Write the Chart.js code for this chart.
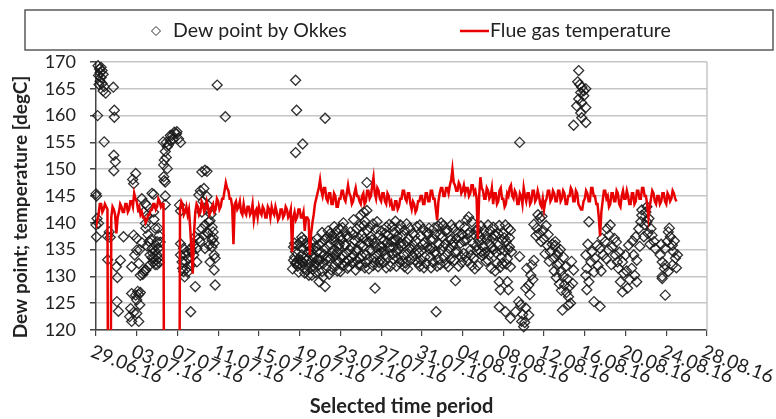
<!DOCTYPE html>
<html>
<head>
<meta charset="utf-8">
<script src="https://cdn.jsdelivr.net/npm/chart.js@4.4.1/dist/chart.umd.min.js"></script>
<style>
  html, body { margin: 0; padding: 0; background: #fff; }
  #wrap { width: 776px; height: 419px; }
</style>
</head>
<body>
<div id="wrap"><canvas id="dewChart" width="776" height="419"></canvas></div>
<script>
// x axis: days since 29.06.16, one label every 4 days
const xTickLabels = ["29.06.16", "03.07.16", "07.07.16", "11.07.16", "15.07.16", "19.07.16",
  "23.07.16", "27.07.16", "31.07.16", "04.08.16", "08.08.16", "12.08.16", "16.08.16",
  "20.08.16", "24.08.16", "28.08.16"];

// flue gas temperature, one reading every 3 hours from 29.06.16 00:00 (one row = one day)
const flueStartDay = 0;
const flueStepDay = 0.125;
const flueTemp = [
  139, 140.5, 141.5, 143.5, 143.5, 142, 142.5, 143.5,
  143, 142.5, 60, 60, 141, 143, 142.5, 141.5,
  138, 141, 142, 143.5, 143, 142, 142, 143.5,
  143.5, 142, 142.5, 144, 144, 143, 145.5, 144.5,
  144, 142.5, 143, 141.5, 142, 141, 141, 140,
  140.5, 141.5, 141.5, 142.5, 142.5, 143.5, 143.5, 142.5,
  143, 144.5, 144, 143, 143.5, 143.5, 60, 60,
  60, 60, 60, 60, 60, 60, 60, 60,
  60, 60, 142.5, 144, 143.5, 141.5, 142, 143,
  141.5, 142.5, 139, 135, 130.5, 138, 142, 143.5,
  143, 141.5, 142, 144, 143.5, 142, 142.5, 144,
  143, 141.5, 142, 143, 143.5, 142, 142.5, 144.5,
  144, 142.5, 143, 144.5, 144.5, 146, 147.5, 146.5,
  146, 144.5, 144.5, 143, 136, 143.5, 144, 142.5,
  143, 144, 142, 141.5, 143.5, 142, 141.5, 143,
  143, 141.5, 142, 143.5, 140.5, 142, 142.5, 141,
  143, 142, 141.5, 143, 142.5, 141, 141, 143,
  142.5, 141, 143, 142, 141.5, 143, 142, 140.5,
  141, 142.5, 142.5, 141, 141.5, 143, 142.5, 141,
  141.5, 142.5, 134.5, 141, 142, 140.5, 141, 142.5,
  142.5, 141, 141, 142, 138.5, 141, 141, 140.5,
  134, 138, 140, 141.5, 143.5, 144.5, 145.5, 146.5,
  148, 146, 145, 146.5, 146.5, 144.5, 144, 145.5,
  145.5, 143.5, 143.5, 145.5, 145, 143, 143, 144.5,
  144.5, 146, 146, 144.5, 144, 145.5, 147, 145.5,
  145, 143.5, 144, 145.5, 146.5, 145, 145, 144,
  143.5, 145, 145.5, 143.5, 144, 146, 146, 144.5,
  145, 147, 148.5, 145.5, 144.5, 146.5, 146, 144.5,
  144, 145.5, 145.5, 144, 143.5, 145.5, 145, 143.5,
  144, 142.5, 142.5, 144, 144, 142.5, 143, 144.5,
  144.5, 146, 146, 144.5, 144, 145.5, 145.5, 143.5,
  142.5, 144, 143.5, 142, 142.5, 144, 144, 145,
  145, 143.5, 143.5, 145.5, 145.5, 144, 144, 146,
  146, 144.5, 144.5, 142.5, 140.5, 144, 145.5, 146.5,
  146.5, 145, 145, 146.5, 146.5, 145.5, 147, 148,
  150, 147.5, 147, 146, 146, 147.5, 147, 145.5,
  146, 147, 145.5, 146.5, 146.5, 145, 145.5, 147,
  147, 145.5, 146, 144.5, 137, 145, 148.5, 146.5,
  146, 144.5, 144.5, 146.5, 146, 144.5, 145, 146.5,
  143.5, 145.5, 145.5, 143.5, 144, 146, 146.5, 144.5,
  144.5, 143, 143.5, 145.5, 145, 146.5, 147, 145,
  144.5, 146, 145.5, 143.5, 143.5, 145.5, 145, 143.5,
  146.5, 145, 144, 145.5, 145.5, 143.5, 144, 146,
  146, 144, 144.5, 146, 145, 143.5, 143, 144.5,
  142.5, 144, 144.5, 146, 146, 144, 144.5, 146,
  145.5, 144, 144, 146, 146, 144, 144.5, 146,
  145.5, 143.5, 143.5, 145, 145, 146.5, 146, 144,
  144, 146, 145.5, 143.5, 143, 142.5, 142.5, 144,
  144.5, 146, 145.5, 144, 144, 146.5, 146.5, 145,
  145, 143.5, 143.5, 141, 137.5, 142, 144, 146,
  146, 144.5, 145, 143, 143.5, 145.5, 145.5, 144,
  144, 146, 145.5, 143.5, 143, 145, 146, 144.5,
  144.5, 146, 145, 143.5, 143.5, 145.5, 145.5, 143.5,
  144, 146, 146, 144.5, 144.5, 146.5, 146.5, 145,
  145, 143.5, 141, 143, 144.5, 146, 145.5, 144,
  143.5, 145, 145, 143.5, 144, 145.5, 145.5, 144,
  143.5, 145.5, 145, 144, 144.5, 146, 145.5, 144.5,
  144
];

// dew point by Okkes: [day since 29.06.16, degC]
const dewPoints = [
  [0.2,169.3],[0.35,168.7],[0.5,169.0],[0.4,168.0],[0.6,168.4],[0.25,167.5],[0.5,167.1],[0.7,167.7],
  [0.4,166.4],[0.6,166.0],[0.8,165.4],[0.7,164.6],[0.95,164.2],[0.3,165.8],[1.7,165.3],[0.15,160.0],
  [1.8,161.0],[1.8,159.7],[0.8,155.1],[1.75,152.6],[1.9,151.4],[1.75,149.7],[0.0,145.4],[0.05,145.0],
  [0.1,140.8],[0.25,139.9],[0.05,137.4],[0.0,139.6],[1.15,133.1],[1.3,138.3],[1.4,137.3],[1.1,137.5],
  [2.0,131.8],[2.4,133.0],[2.1,129.8],[2.05,125.3],[2.2,123.5],[2.7,137.4],
  [3.4,124.0],[3.3,122.5],[3.5,121.6],[4.2,121.6],[4.0,123.1],[3.5,126.8],[3.9,126.5],[4.35,127.0],
  [4.0,125.6],[4.3,124.7],[4.2,126.6],[3.7,123.3],[4.1,127.2],[3.9,149.2],[3.7,147.3],[3.6,148.1],
  [3.7,137.7],[4.0,137.1],[3.8,134.0],[3.5,131.8],[4.2,132.4],[4.7,130.9],[4.35,130.2],[4.0,134.9],
  [4.85,131.2],[4.5,136.3],[4.3,135.0],[5.5,145.5],[4.5,144.5],[4.85,143.6],[4.7,142.0],[5.0,141.4],
  [5.66,145.3],[5.0,143.2],[4.85,139.9],[5.66,142.0],[4.9,139.0],[5.1,137.8],[5.2,136.5],[5.0,135.7],
  [5.4,136.9],[5.5,135.2],[5.6,134.3],[5.3,134.0],[5.7,133.5],[5.8,134.8],[5.9,133.0],[6.0,134.0],
  [6.1,133.4],[5.9,135.8],[6.2,132.6],[6.0,132.2],[5.6,132.6],[5.2,132.0],[4.9,131.2],[4.6,130.4],
  [6.3,136.4],[6.2,137.6],[6.1,139.0],[5.7,140.6],[5.8,139.0],[6.0,136.5],[5.5,133.5],[5.8,132.2],
  [6.1,135.2],[6.65,148.6],[6.8,147.6],[6.65,150.8],[6.7,151.7],[6.9,152.2],[6.8,153.3],[7.0,154.2],
  [6.9,155.0],[7.3,155.3],[7.5,156.3],[7.6,155.6],[7.9,156.6],[8.1,155.7],[8.3,155.0],[6.8,145.0],
  [6.8,143.4],[7.0,150.1],[7.1,154.5],[7.3,156.3],[7.95,157.0],[6.7,147.9],[6.6,155.1],[7.7,156.9],
  [8.2,143.3],[8.3,142.2],[8.3,136.1],[8.6,135.2],[8.8,134.0],[8.45,132.7],[8.9,131.5],[8.6,130.9],
  [9.3,132.1],[9.1,133.4],[9.6,134.0],[9.4,134.6],[9.9,135.2],[10.2,136.5],[9.75,137.4],[10.6,137.7],
  [10.9,138.3],[10.7,139.6],[11.1,140.2],[10.4,142.0],[8.3,134.0],[8.9,134.6],[8.8,132.7],[9.3,135.2],
  [9.6,135.8],[9.9,132.7],[10.1,137.1],[10.4,138.9],[10.7,135.2],[11.1,135.8],[11.4,136.8],[11.6,134.0],
  [11.7,133.4],[11.2,132.7],[11.4,135.5],[8.5,131.5],[8.7,129.9],[9.0,130.8],[10.4,149.5],[10.7,149.8],
  [10.9,149.6],[10.6,146.4],[10.9,144.9],[11.0,143.3],[10.5,144.0],[11.3,141.6],[11.2,140.4],[11.4,139.2],
  [11.5,138.3],[11.6,136.2],[11.6,131.2],[11.7,128.4],[11.5,137.2],[11.0,138.0],[10.25,146.0],[10.1,145.2],
  [9.3,123.4],[9.75,128.1],[11.9,165.7],[12.7,159.8],
  [19.6,166.6],[19.7,161.0],[22.5,159.5],[19.6,153.1],[20.3,154.7],[26.6,147.5],[27.4,127.8],[22.5,128.1],
  [21.9,129.0],[20.9,130.2],[26.6,142.3],[23.4,139.3],
  [19.6,134.6],[19.7,132.7],[19.6,132.4],[20.1,136.5],[20.2,134.0],[20.4,131.5],[20.7,133.0],[21.2,134.0],
  [21.5,132.4],[21.7,134.6],[22.2,130.9],[22.4,134.0],[22.9,135.8],[23.0,133.4],[23.2,137.7],[23.5,136.5],
  [23.7,134.6],[23.8,132.7],[24.0,130.9],[24.2,134.0],[24.5,135.8],[24.5,132.7],[24.8,137.4],[25.1,135.5],
  [25.3,134.0],[25.6,138.9],[26.0,141.4],[26.3,142.0],[26.1,137.7],[26.0,132.1],[26.5,134.0],[26.8,136.5],
  [27.1,134.9],[27.4,132.7],[27.8,137.7],[28.1,135.5],[28.4,134.0],[28.7,137.7],[29.1,139.3],[29.4,136.8],
  [29.7,135.2],[29.9,139.6],[30.1,137.7],[30.2,134.0],
  [19.4,135.5],[19.5,133.6],[19.8,135.8],[19.9,133.2],[19.3,131.4],[19.9,130.8],
  [19.5,136.2],[19.8,131.9],[19.4,133.0],
  [20.0,132.3],[20.3,135.2],[20.5,133.4],[20.6,136.0],[20.8,134.5],[20.9,132.1],[20.5,130.6],[20.2,137.3],
  [20.1,133.1],[20.4,136.8],[20.7,131.2],[20.8,135.9],[20.3,132.6],
  [21.0,135.6],[21.1,132.8],[21.3,136.4],[21.4,133.5],[21.6,130.7],[21.8,133.0],[21.9,135.9],[21.3,131.3],[21.7,137.0],
  [21.1,134.6],[21.4,131.9],[21.6,135.6],[21.9,132.2],[21.2,130.2],
  [22.0,133.1],[22.1,136.2],[22.3,132.4],[22.5,135.2],[22.6,131.5],[22.7,137.3],[22.8,133.6],[22.9,130.4],[22.2,138.2],
  [22.1,134.5],[22.4,136.8],[22.6,133.2],[22.8,138.5],[22.3,129.9],
  [23.1,131.2],[23.3,135.0],[23.4,132.0],[23.6,138.4],[23.7,131.0],[23.9,136.0],[23.5,133.9],[23.1,136.9],[23.9,138.9],
  [23.2,134.4],[23.4,137.3],[23.6,132.9],[23.8,135.6],[23.0,138.0],
  [24.1,136.8],[24.3,132.0],[24.4,138.3],[24.6,134.3],[24.7,131.5],[24.9,135.0],[24.3,140.0],[24.8,133.0],[24.0,137.5],
  [24.1,133.4],[24.4,135.9],[24.6,137.6],[24.8,131.8],[24.2,139.1],
  [25.0,138.3],[25.2,132.5],[25.4,136.7],[25.5,131.2],[25.7,135.0],[25.8,137.2],[25.9,133.4],[25.3,140.6],[25.6,133.0],
  [25.1,133.5],[25.3,137.8],[25.5,134.9],[25.8,132.1],[25.9,139.4],
  [26.2,135.6],[26.4,131.6],[26.6,138.6],[26.7,133.2],[26.9,135.0],[26.3,139.5],[26.8,131.4],[26.0,136.0],[26.4,140.3],
  [26.1,133.8],[26.3,137.0],[26.5,132.6],[26.7,136.4],[26.9,139.1],
  [27.0,137.4],[27.2,132.0],[27.3,136.2],[27.5,138.9],[27.6,134.0],[27.7,131.8],[27.9,135.6],[27.2,139.8],[27.9,133.0],
  [27.1,136.8],[27.3,133.4],[27.5,135.4],[27.8,132.6],[27.6,140.2],
  [28.0,138.5],[28.2,132.6],[28.3,136.7],[28.5,139.2],[28.6,133.5],[28.8,135.4],[28.9,131.9],[28.4,138.0],[28.0,134.6],
  [28.1,137.1],[28.3,134.8],[28.6,136.4],[28.8,139.7],[28.5,131.6],
  [29.0,136.5],[29.2,133.2],[29.3,138.2],[29.5,134.5],[29.6,137.5],[29.8,132.6],[29.9,136.2],[29.2,135.4],[29.5,131.9],
  [29.1,134.1],[29.3,136.6],[29.6,133.4],[29.8,138.8],[29.4,140.3],
  [30.0,135.7],[30.3,138.6],[30.4,132.5],[30.5,136.4],[30.6,134.3],[30.8,139.0],[30.9,133.1],[30.7,137.1],[30.3,131.8],
  [30.1,132.9],[30.2,136.0],[30.5,139.8],[30.8,135.3],[30.6,131.4],
  [31.0,135.0],[31.1,138.0],[31.3,133.0],[31.4,136.6],[31.5,139.3],[31.7,134.4],[31.8,131.9],[31.9,137.6],[31.2,135.8],[31.6,132.6],
  [31.1,133.9],[31.3,137.6],[31.5,134.9],[31.8,139.6],[31.9,133.1],
  [32.0,134.9],[32.1,138.8],[32.3,136.3],[32.4,132.4],[32.5,135.5],[32.7,139.0],[32.8,133.6],[32.9,136.9],[32.2,131.6],[32.6,137.8],
  [32.1,136.0],[32.3,133.6],[32.5,138.2],[32.8,135.1],[32.9,131.6],
  [33.0,135.3],[33.1,132.6],[33.3,137.8],[33.4,134.1],[33.6,139.4],[33.7,136.0],[33.8,132.2],[33.9,135.0],[33.2,139.0],[33.5,131.9],
  [33.1,137.0],[33.3,134.6],[33.6,133.1],[33.8,137.8],[33.9,140.0],
  [34.0,137.4],[34.2,133.5],[34.3,136.0],[34.5,138.7],[34.6,131.8],[34.7,135.2],[34.9,137.0],[34.1,139.5],[34.8,133.2],[34.4,132.4],
  [34.1,135.6],[34.3,138.4],[34.5,134.2],[34.8,136.8],[34.9,139.6],
  [35.0,135.9],[35.1,138.9],[35.2,133.0],[35.4,137.0],[35.5,134.6],[35.7,139.5],[35.8,136.2],[35.9,132.6],[35.3,129.2],[35.6,131.9],
  [35.1,136.4],[35.3,134.5],[35.5,138.2],[35.8,133.7],[35.9,137.9],
  [36.0,137.8],[36.1,134.3],[36.3,136.7],[36.4,140.5],[36.6,141.1],[36.5,132.8],[36.7,138.2],[36.8,135.0],[36.9,132.0],[36.2,139.2],
  [36.1,136.6],[36.3,133.6],[36.5,137.9],[36.8,133.9],[36.9,140.2],
  [37.0,136.2],[37.1,133.4],[37.3,138.6],[37.4,134.8],[37.5,132.0],[37.6,136.5],[37.8,139.4],[37.9,133.9],[37.2,131.4],[37.7,137.4],
  [37.1,137.9],[37.3,135.6],[37.5,138.7],[37.8,134.6],[37.9,136.8],
  [38.0,135.6],[38.1,138.6],[38.3,132.8],[38.4,136.9],[38.5,139.6],[38.6,134.0],[38.8,131.5],[38.9,137.2],[38.2,134.5],[38.7,136.0],
  [38.1,134.2],[38.3,137.6],[38.5,133.0],[38.7,138.6],[38.9,135.3],
  [39.0,139.2],[39.1,135.1],[39.3,137.6],[39.4,132.5],[39.5,135.8],[39.6,139.5],[39.8,133.6],[39.9,136.8],[39.2,131.0],[39.7,131.7],
  [39.1,137.8],[39.3,134.4],[39.5,138.0],[39.7,134.9],[39.9,132.4],
  [40.0,138.0],[40.1,134.8],[40.3,136.5],[40.4,133.3],[40.5,139.0],[40.6,135.5],[40.7,131.8],[40.2,139.6],[40.6,137.2],
  [40.1,137.2],[40.3,132.3],[40.5,135.0],[40.7,138.6],[40.8,134.6],
  [33.4,123.4],[41.6,155.0],[41.6,133.7],
  [39.6,129.0],[40.4,129.0],[39.7,127.5],[40.5,127.5],[39.6,124.3],[40.2,123.4],[40.7,122.2],[41.2,123.4],
  [41.8,121.6],[42.0,120.6],[41.7,124.7],[42.2,124.1],[42.5,122.8],[41.5,125.3],[41.9,122.9],[42.1,121.4],
  [42.3,131.5],[42.7,130.2],[42.5,128.4],[42.8,132.1],[42.2,127.8],[43.0,133.0],[42.6,126.6],[42.9,129.4],
  [43.0,139.7],[43.3,139.0],[43.6,140.9],[43.8,141.2],[43.5,138.0],[44.0,137.0],[44.3,135.8],[44.6,134.6],
  [44.9,133.4],[45.3,132.1],[45.4,134.6],[45.1,135.8],[43.2,137.6],[43.7,136.5],[43.9,138.6],[44.1,134.2],
  [44.4,137.8],[44.5,132.8],[44.8,136.0],[45.0,131.0],[44.2,139.5],[43.4,141.5],[45.2,129.8],[45.5,128.6],
  [45.1,136.5],[45.3,134.0],[45.5,132.4],[45.7,131.0],[45.9,130.0],[46.0,128.4],[46.2,127.0],[46.5,128.1],
  [46.6,125.0],[45.8,123.7],[46.3,129.5],[46.8,128.7],[46.9,131.2],[46.7,132.8],[45.6,135.0],[45.9,133.6],
  [46.4,124.7],[46.1,131.8],[46.4,126.2],[45.7,127.4],
  [46.9,158.2],[47.4,168.4],[47.3,166.3],[47.7,165.3],[48.1,165.0],[47.6,164.3],[47.9,163.7],[47.4,163.1],
  [47.7,162.4],[47.2,161.8],[48.1,161.5],[47.6,160.5],[47.7,159.6],[48.1,158.7],[47.5,165.8],[47.9,164.6],
  [48.4,140.2],[48.2,127.5],[48.9,125.3],[49.5,124.4],
  [48.1,134.0],[48.2,131.5],[48.1,130.2],[48.6,132.7],[48.7,134.6],[49.0,133.4],[49.2,135.8],[49.5,135.2],
  [49.7,137.1],[50.0,136.5],[50.2,138.9],[50.4,137.7],[50.7,135.5],[50.9,137.1],[51.0,134.0],[51.2,132.7],
  [51.3,131.5],[51.7,132.7],[51.7,127.1],[51.5,129.0],[51.8,130.6],[48.4,129.0],[48.9,130.8],[49.3,132.0],
  [49.8,134.0],[50.3,135.0],[50.5,139.6],[50.1,133.3],[51.1,136.4],[51.4,134.5],[50.6,132.2],[49.6,131.0],[48.3,136.0],
  [52.0,134.0],[52.3,135.8],[52.6,131.5],[52.8,134.0],[53.0,137.4],[53.3,138.9],[53.5,140.2],[53.6,141.4],
  [54.0,142.0],[54.1,140.2],[54.3,140.8],[54.5,138.9],[54.6,137.7],[54.8,136.5],[54.9,135.2],[53.6,142.4],
  [54.1,143.0],[52.1,131.0],[52.4,129.4],[52.9,130.2],[53.1,133.0],[53.4,135.6],[53.8,137.4],[54.2,138.0],
  [52.7,136.6],[53.1,129.0],[52.2,127.8],[53.9,139.6],[54.4,136.0],
  [55.6,130.0],[55.9,126.5],[55.6,129.6],
  [55.4,134.0],[55.6,132.7],[55.8,131.5],[55.9,135.2],[56.1,136.5],[56.2,138.3],[56.4,137.4],[56.6,135.8],
  [56.7,134.6],[56.9,133.4],[57.1,134.0],[56.2,130.9],[55.9,132.1],[56.6,132.1],[56.3,139.0],[55.5,136.0],
  [56.8,136.6],[57.0,131.6]
];

const dewLabel = "Dew point by Okkes";
const flueLabel = "Flue gas temperature";
const yTitle = "Dew point; temperature [degC]";
const lineRed = "rgb(232,0,0)";
const diamondColor = "rgba(25,25,25,0.9)";

Chart.defaults.font.family = "Lato, 'Open Sans', sans-serif";
Chart.defaults.color = "#222";

// slanted date labels, y title, legend box and plot frame
const customDraw = {
  id: "customDraw",
  beforeDatasetsDraw(chart) {
    const ctx = chart.ctx;
    const area = chart.chartArea;
    ctx.save();
    ctx.strokeStyle = "#c6c6c6";
    ctx.lineWidth = 1.5;
    ctx.beginPath();
    ctx.moveTo(area.right, area.top);
    ctx.lineTo(area.right, area.bottom);
    ctx.stroke();
    ctx.restore();
  },
  afterDraw(chart) {
    const ctx = chart.ctx;
    const xs = chart.scales.x;
    const area = chart.chartArea;
    ctx.save();

    ctx.font = "19px Lato";
    ctx.fillStyle = "#222";
    ctx.textAlign = "left";
    ctx.textBaseline = "top";
    xs.ticks.forEach((t, i) => {
      const px = xs.getPixelForValue(t.value);
      ctx.save();
      ctx.translate(px - 1, area.bottom + 12);
      ctx.rotate(21 * Math.PI / 180);
      ctx.fillText(xTickLabels[i], 0, 0);
      ctx.restore();
    });

    ctx.save();
    ctx.translate(21, 207);
    ctx.rotate(-Math.PI / 2);
    ctx.textAlign = "center";
    ctx.textBaseline = "middle";
    ctx.font = "bold 19px Lato";
    ctx.fillText(yTitle, 0, 0);
    ctx.restore();

    // legend
    ctx.strokeStyle = "#5a5a5a";
    ctx.lineWidth = 1.5;
    ctx.strokeRect(25, 10, 748, 40);

    const ly = 31;
    ctx.strokeStyle = diamondColor;
    ctx.lineWidth = 1;
    ctx.beginPath();
    ctx.moveTo(151.5, ly);
    ctx.lineTo(156, ly - 4.5);
    ctx.lineTo(160.5, ly);
    ctx.lineTo(156, ly + 4.5);
    ctx.closePath();
    ctx.stroke();

    ctx.strokeStyle = lineRed;
    ctx.lineWidth = 2.5;
    ctx.beginPath();
    ctx.moveTo(460, ly);
    ctx.lineTo(489, ly);
    ctx.stroke();

    ctx.fillStyle = "#222";
    ctx.textBaseline = "middle";
    ctx.font = "19.5px Lato";
    ctx.fillText(dewLabel, 173, ly);
    ctx.fillText(flueLabel, 490, ly);
    ctx.restore();
  }
};

const ctx = document.getElementById("dewChart").getContext("2d");
const dewChart = new Chart(ctx, {
  type: "scatter",
  data: {
    datasets: [
      {
        label: flueLabel,
        data: flueTemp.map((v, i) => ({ x: flueStartDay + i * flueStepDay, y: v })),
        showLine: true,
        borderColor: lineRed,
        backgroundColor: lineRed,
        borderWidth: 2.5,
        pointRadius: 0,
        tension: 0,
        clip: 0,
        order: 0
      },
      {
        label: dewLabel,
        data: dewPoints.map(p => ({ x: p[0], y: p[1] })),
        pointStyle: "rectRot",
        pointRadius: 5,
        borderWidth: 1.3,
        borderColor: diamondColor,
        backgroundColor: "rgba(0,0,0,0)",
        clip: 6,
        order: 1
      }
    ]
  },
  options: {
    responsive: false,
    animation: false,
    devicePixelRatio: 1,
    layout: { padding: { left: 0, right: 69, top: 62, bottom: 0 } },
    plugins: {
      legend: { display: false },
      tooltip: { enabled: false }
    },
    scales: {
      x: {
        type: "linear",
        min: 0,
        max: 60,
        afterFit: (scale) => { scale.height = 89; },
        ticks: {
          stepSize: 4,
          display: false,
          callback: (v) => xTickLabels[Math.round(v / 4)]
        },
        grid: {
          drawOnChartArea: false,
          drawTicks: true,
          tickLength: 6,
          color: "#444",
          lineWidth: 1.2
        },
        border: { color: "#444", width: 1.5 },
        title: {
          display: true,
          text: "Selected time period",
          font: { size: 20, weight: "bold" },
          color: "#222",
          padding: { top: 0, bottom: 0 }
        }
      },
      y: {
        min: 120,
        max: 170,
        afterFit: (scale) => { scale.width = 96; },
        ticks: {
          stepSize: 5,
          padding: 14,
          font: { size: 18 },
          color: "#222"
        },
        grid: {
          color: "#c6c6c6",
          lineWidth: 1.5,
          tickColor: "#444",
          tickLength: 6
        },
        border: { color: "#444", width: 1.5 }
      }
    }
  },
  plugins: [customDraw]
});
</script>
</body>
</html>
